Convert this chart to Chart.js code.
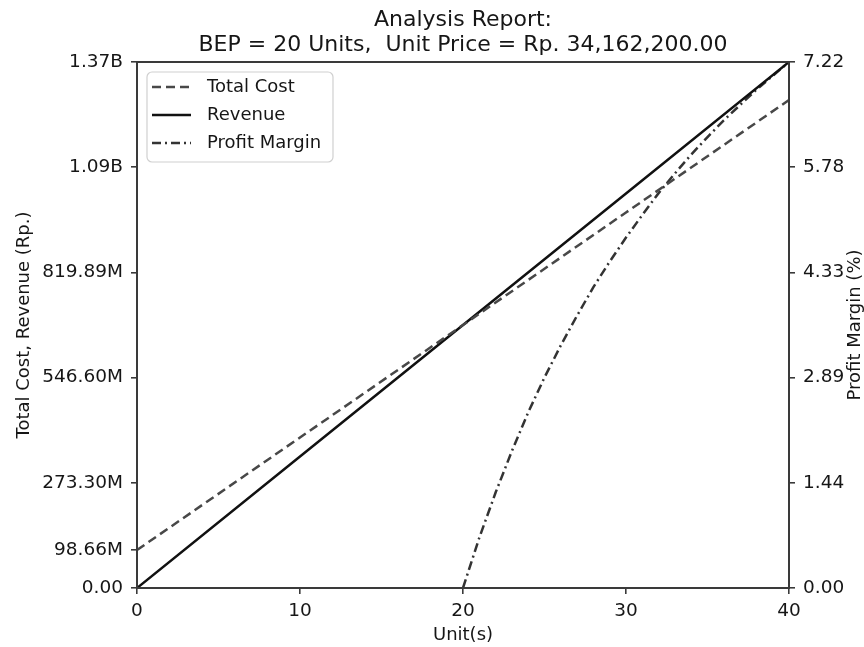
<!DOCTYPE html>
<html>
<head>
<meta charset="utf-8">
<script src="https://cdn.jsdelivr.net/npm/chart.js@4.4.0/dist/chart.umd.min.js"></script>
<style>
  html, body { margin: 0; padding: 0; background: #ffffff; }
  canvas { display: block; }
</style>
</head>
<body>
<canvas id="c" width="864" height="647"></canvas>
<script>
// ---- data ----
const titleLines = ['Analysis Report:', 'BEP = 20 Units,  Unit Price = Rp. 34,162,200.00'];
const seriesNames = ['Total Cost', 'Revenue', 'Profit Margin'];
const units = [0, 10, 20, 30, 40];
const totalCost = [98.66e6, 390.95e6, 683.24e6, 975.54e6, 1267.83e6];
const revenue = [0, 341.62e6, 683.24e6, 1024.87e6, 1366.49e6];
const marginUnits = [20, 21, 22, 23, 24, 25, 26, 27, 28, 29, 30, 31, 32, 33, 34, 35, 36, 37, 38, 39, 40];
const profitMargin = [0.00, 0.69, 1.31, 1.88, 2.41, 2.89, 3.33, 3.74, 4.13, 4.48, 4.81, 5.12, 5.42, 5.69, 5.95, 6.19, 6.42, 6.63, 6.84, 7.03, 7.22];
const xTicks = [0, 10, 20, 30, 40];
const leftTickValues = [0, 98.66e6, 273.30e6, 546.60e6, 819.89e6, 1093.19e6, 1366.49e6];
const leftTickLabels = ['0.00', '98.66M', '273.30M', '546.60M', '819.89M', '1.09B', '1.37B'];
const rightTickValues = [0, 1.44, 2.89, 4.33, 5.78, 7.22];
const rightTickLabels = ['0.00', '1.44', '2.89', '4.33', '5.78', '7.22'];

const FONT = 'DejaVu Sans';
const INK = '#161616';
const AXIS = '#3a3a3a';

const framePlugin = {
  id: 'frame',
  afterDatasetsDraw(chart) {
    const {ctx, chartArea: a} = chart;
    ctx.save();
    ctx.strokeStyle = AXIS;
    ctx.lineWidth = 2;
    ctx.setLineDash([]);
    ctx.strokeRect(a.left, a.top, a.right - a.left, a.bottom - a.top);
    ctx.restore();
  }
};

const legendPlugin = {
  id: 'boxLegend',
  afterDraw(chart) {
    const {ctx, chartArea: a} = chart;
    const x0 = a.left + 10, y0 = a.top + 10, w = 186, h = 90, r = 5;
    ctx.save();
    ctx.fillStyle = 'rgba(255,255,255,0.85)';
    ctx.strokeStyle = '#d0d0d0';
    ctx.lineWidth = 1.2;
    ctx.beginPath();
    ctx.moveTo(x0 + r, y0);
    ctx.arcTo(x0 + w, y0, x0 + w, y0 + h, r);
    ctx.arcTo(x0 + w, y0 + h, x0, y0 + h, r);
    ctx.arcTo(x0, y0 + h, x0, y0, r);
    ctx.arcTo(x0, y0, x0 + w, y0, r);
    ctx.closePath();
    ctx.fill();
    ctx.stroke();
    chart.data.datasets.forEach((ds, i) => {
      const yy = y0 + 15 + i * 28;
      ctx.strokeStyle = ds.borderColor;
      ctx.lineWidth = ds.borderWidth;
      ctx.setLineDash(ds.borderDash || []);
      ctx.beginPath();
      ctx.moveTo(x0 + 5, yy);
      ctx.lineTo(x0 + 44, yy);
      ctx.stroke();
      ctx.setLineDash([]);
      ctx.fillStyle = INK;
      ctx.font = '18px "' + FONT + '"';
      ctx.textAlign = 'left';
      ctx.textBaseline = 'middle';
      ctx.fillText(ds.label, x0 + 60, yy);
    });
    ctx.restore();
  }
};

const rightTitlePlugin = {
  id: 'rightTitle',
  afterDraw(chart) {
    const {ctx, chartArea: a} = chart;
    ctx.save();
    ctx.translate(855, (a.top + a.bottom) / 2);
    ctx.rotate(-Math.PI / 2);
    ctx.fillStyle = INK;
    ctx.font = '18px "' + FONT + '"';
    ctx.textAlign = 'center';
    ctx.textBaseline = 'middle';
    ctx.fillText('Profit Margin (%)', 0, 0);
    ctx.restore();
  }
};

const tickGrid = {drawOnChartArea: false, drawTicks: true, tickLength: 6, color: AXIS, lineWidth: 1.6};

new Chart(document.getElementById('c'), {
  type: 'line',
  data: {
    datasets: [
      {
        label: seriesNames[0],
        data: units.map((u, i) => ({x: u, y: totalCost[i]})),
        borderColor: '#484848', borderWidth: 2.5, borderDash: [9, 5],
        pointRadius: 0, fill: false, tension: 0, yAxisID: 'y'
      },
      {
        label: seriesNames[1],
        data: units.map((u, i) => ({x: u, y: revenue[i]})),
        borderColor: '#111111', borderWidth: 2.5,
        pointRadius: 0, fill: false, tension: 0, yAxisID: 'y'
      },
      {
        label: seriesNames[2],
        data: marginUnits.map((u, i) => ({x: u, y: profitMargin[i]})),
        borderColor: '#333333', borderWidth: 2.5, borderDash: [9, 4, 2, 4],
        pointRadius: 0, fill: false, tension: 0, yAxisID: 'y1'
      }
    ]
  },
  options: {
    responsive: false,
    animation: false,
    layout: {padding: 0},
    plugins: {
      legend: {display: false},
      tooltip: {enabled: false},
      title: {
        display: true,
        text: titleLines,
        fullSize: false,
        color: INK,
        font: {family: FONT, size: 22, weight: 'normal', lineHeight: 25 / 22},
        padding: {top: 7.5, bottom: 4.5}
      }
    },
    scales: {
      x: {
        type: 'linear', position: 'bottom', min: 0, max: 40,
        afterBuildTicks(s) { s.ticks = xTicks.map(v => ({value: v})); },
        ticks: {color: INK, font: {family: FONT, size: 18.5}, padding: 6, maxRotation: 0, autoSkip: false},
        grid: tickGrid,
        border: {display: false},
        title: {display: true, text: 'Unit(s)', color: INK, font: {family: FONT, size: 18}, padding: {top: 0, bottom: 1}},
        afterFit(s) { s.height = 59; }
      },
      y: {
        type: 'linear', position: 'left', min: 0, max: leftTickValues[leftTickValues.length - 1],
        afterBuildTicks(s) { s.ticks = leftTickValues.map(v => ({value: v})); },
        ticks: {color: INK, font: {family: FONT, size: 18.5}, padding: 8, autoSkip: false,
                callback: (v, i) => leftTickLabels[i]},
        grid: tickGrid,
        border: {display: false},
        title: {display: true, text: 'Total Cost, Revenue (Rp.)', color: INK, font: {family: FONT, size: 18}, padding: {top: 14, bottom: 0}},
        afterFit(s) { s.width = 137; }
      },
      y1: {
        type: 'linear', position: 'right', min: 0, max: rightTickValues[rightTickValues.length - 1],
        afterBuildTicks(s) { s.ticks = rightTickValues.map(v => ({value: v})); },
        ticks: {color: INK, font: {family: FONT, size: 18.5}, padding: 8, autoSkip: false,
                callback: (v, i) => rightTickLabels[i]},
        grid: tickGrid,
        border: {display: false},
        afterFit(s) { s.width = 75; }
      }
    }
  },
  plugins: [framePlugin, legendPlugin, rightTitlePlugin]
});
</script>
</body>
</html>
